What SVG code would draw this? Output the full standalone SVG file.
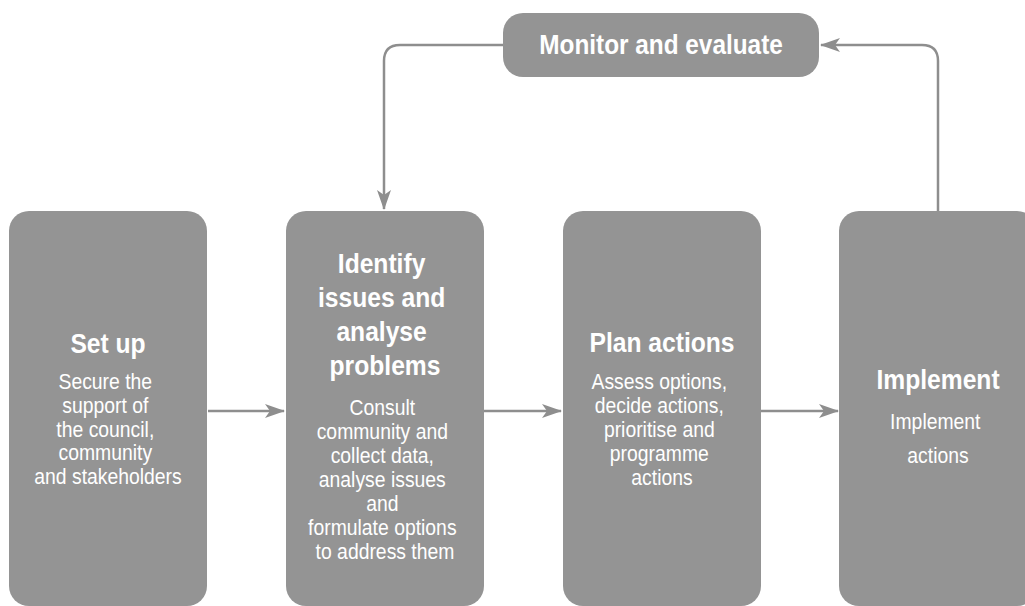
<svg xmlns="http://www.w3.org/2000/svg" width="1025" height="606" viewBox="0 0 1025 606">
  <style>
    .box { fill: #949494; }
    .title { font-family: "Liberation Sans", Arial, sans-serif; font-weight: bold; font-size: 28px; fill: #ffffff; text-anchor: middle; }
    .body { font-family: "Liberation Sans", Arial, sans-serif; font-size: 22px; fill: #ffffff; text-anchor: middle; }
    .link { fill: none; stroke: #8e8e8e; stroke-width: 2.5; }
  </style>
  <defs>
    <marker id="arrow" viewBox="0 0 20 14" refX="19" refY="7" markerWidth="20" markerHeight="14" markerUnits="userSpaceOnUse" orient="auto">
      <path d="M0,0 L20,7 L0,14 L5,7 Z" fill="#8e8e8e"/>
    </marker>
  </defs>

  <rect width="1025" height="606" fill="#ffffff"/>

  <!-- connectors -->
  <g id="connectors">
    <path class="link" d="M208,411 H284" marker-end="url(#arrow)"/>
    <path class="link" d="M484,411 H561" marker-end="url(#arrow)"/>
    <path class="link" d="M761,411 H838" marker-end="url(#arrow)"/>
    <path class="link" d="M503,45 H400 Q384,45 384,61 V209" marker-end="url(#arrow)"/>
    <path class="link" d="M938,211 V61 Q938,45 922,45 H821" marker-end="url(#arrow)"/>
  </g>

  <!-- Monitor and evaluate -->
  <g id="node-monitor">
    <rect class="box" x="503" y="13" width="316" height="64" rx="20"/>
    <text class="title" transform="translate(661,0) scale(0.87,1)" x="0" y="54">Monitor and evaluate</text>
  </g>

  <!-- Set up -->
  <g id="node-setup">
    <rect class="box" x="9" y="211" width="198" height="395" rx="20"/>
    <text class="title" transform="translate(108,0) scale(0.88,1)" x="0" y="353">Set up</text>
    <text class="body" transform="translate(108,0) scale(0.88,1)">
      <tspan x="0" y="389">Secure the</tspan>
      <tspan x="0" y="413">support of</tspan>
      <tspan x="0" y="437">the council,</tspan>
      <tspan x="0" y="460">community</tspan>
      <tspan x="0" y="484">and stakeholders</tspan>
    </text>
  </g>

  <!-- Identify issues and analyse problems -->
  <g id="node-identify">
    <rect class="box" x="286" y="211" width="198" height="395" rx="20"/>
    <text class="title" transform="translate(385,0) scale(0.88,1)">
      <tspan x="0" y="273">Identify</tspan>
      <tspan x="0" y="307">issues and</tspan>
      <tspan x="0" y="341">analyse</tspan>
      <tspan x="0" y="375">problems</tspan>
    </text>
    <text class="body" transform="translate(385,0) scale(0.88,1)">
      <tspan x="0" y="415">Consult</tspan>
      <tspan x="0" y="439">community and</tspan>
      <tspan x="0" y="463">collect data,</tspan>
      <tspan x="0" y="487">analyse issues</tspan>
      <tspan x="0" y="511">and</tspan>
      <tspan x="0" y="535">formulate options</tspan>
      <tspan x="0" y="559">to address them</tspan>
    </text>
  </g>

  <!-- Plan actions -->
  <g id="node-plan">
    <rect class="box" x="563" y="211" width="198" height="395" rx="20"/>
    <text class="title" transform="translate(662,0) scale(0.88,1)" x="0" y="352">Plan actions</text>
    <text class="body" transform="translate(662,0) scale(0.88,1)">
      <tspan x="0" y="389">Assess options,</tspan>
      <tspan x="0" y="413">decide actions,</tspan>
      <tspan x="0" y="437">prioritise and</tspan>
      <tspan x="0" y="461">programme</tspan>
      <tspan x="0" y="485">actions</tspan>
    </text>
  </g>

  <!-- Implement -->
  <g id="node-implement">
    <rect class="box" x="839" y="211" width="198" height="395" rx="20"/>
    <text class="title" transform="translate(938,0) scale(0.88,1)" x="0" y="389">Implement</text>
    <text class="body" transform="translate(938,0) scale(0.88,1)">
      <tspan x="0" y="429">Implement</tspan>
      <tspan x="0" y="463">actions</tspan>
    </text>
  </g>
</svg>
